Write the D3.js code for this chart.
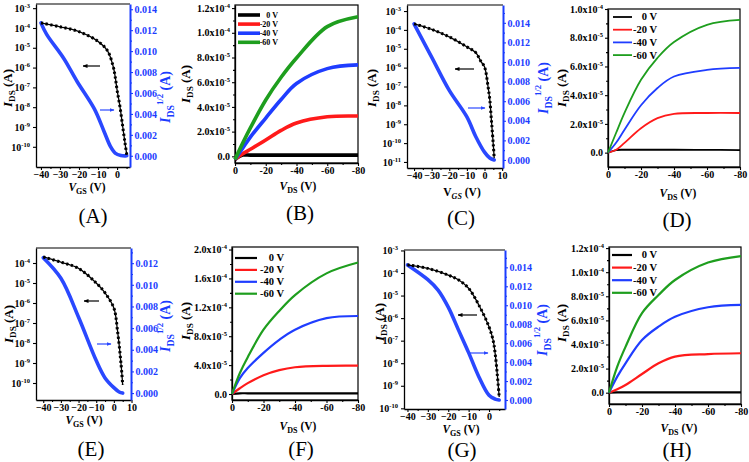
<!DOCTYPE html>
<html>
<head>
<meta charset="utf-8">
<title>transfer and output curves</title>
<script src="https://cdn.jsdelivr.net/npm/d3@7/dist/d3.min.js"></script>
<style>
body { margin: 0; background: #fff; }
text { font-family: "Liberation Serif", "Times New Roman", serif; }
</style>
</head>
<body>
<script>
// ---------- transfer curves (A, C, E, G) ----------
// black: I_DS (log, left axis), blue: sqrt(I_DS) (right axis)
var aVg = [-40, -30, -20, -10, -5, -2, -1, 0, 1.5, 3, 4.2, 5.1];
var aId = [1.8e-4, 1.15e-4, 6.5e-5, 2.1e-5, 7e-6, 1.1e-6, 3.5e-7, 7.5e-8, 1.1e-8, 1e-9, 1.5e-10, 4e-11];
var aVs = [-40, -37, -28, -21, -12, -7, -3.5, -1, 2, 5.1];
var aSq = [0.0127, 0.0116, 0.0093, 0.0071, 0.0045, 0.0024, 0.0009, 0.00026, 0.00003, 0];

var cVg = [-40, -30, -20, -10, -5, -2, 0, 2, 3, 4, 5, 5.5];
var cId = [2.1e-4, 1.07e-4, 4.3e-5, 1.26e-5, 6.3e-6, 2.1e-6, 1.1e-6, 1e-7, 2e-8, 1.3e-9, 8e-11, 1.6e-11];
var cVs = [-40, -30, -20, -10, -5, 0, 3, 5.5];
var cSq = [0.0139, 0.0105, 0.0071, 0.0044, 0.0024, 0.0008, 0.0002, 0];

var eVg = [-40, -30, -20, -10, -5, 0, 2, 4, 5];
var eId = [2e-4, 1.1e-4, 5.4e-5, 1e-5, 3.2e-6, 5.6e-7, 4.5e-8, 1e-9, 8e-11];
var eVs = [-40, -30, -20, -10, -5, 0, 3, 5];
var eSq = [0.0125, 0.0106, 0.007, 0.003, 0.0014, 0.0005, 0.0001, 0];

var gVg = [-40, -30, -20, -15, -10, -5, 0, 2, 3, 4, 5];
var gId = [2.3e-4, 1.6e-4, 8.1e-5, 5e-5, 2.1e-5, 3.8e-6, 4.1e-7, 1.05e-7, 2.75e-8, 3.6e-9, 3.2e-10];
var gVs = [-40, -30, -25, -20, -15, -10, -5, 0, 3, 5];
var gSq = [0.01425, 0.0127, 0.0116, 0.0098, 0.0074, 0.005, 0.00246, 0.0005, 0.0001, 0];

// ---------- output curves (B, D, F, H) ----------
var vds = [0, -5, -10, -20, -30, -40, -60, -80];
var vgNames = ["0 V", "-20 V", "-40 V", "-60 V"];
var vgColors = ["#000000", "#ff1a1a", "#1f3dff", "#1e9e1e"];

var b0  = [-2.5e-6, 1e-6, 1e-6, 1e-6, 1e-6, 1e-6, 1e-6, 1e-6];
var b20 = [-2.5e-6, 2e-6, 5.7e-6, 1.32e-5, 2.1e-5, 2.7e-5, 3.2e-5, 3.26e-5];
var b40 = [-2.5e-6, 6.6e-6, 1.56e-5, 3.1e-5, 4.6e-5, 5.9e-5, 7.1e-5, 7.4e-5];
var b60 = [-2.5e-6, 1.07e-5, 2.3e-5, 4.56e-5, 6.4e-5, 7.96e-5, 1.05e-4, 1.13e-4];

var d0  = [0, 1.8e-6, 2e-6, 2e-6, 2e-6, 2e-6, 1.9e-6, 1.8e-6];
var d20 = [0, 2e-6, 6.8e-6, 1.7e-5, 2.4e-5, 2.7e-5, 2.76e-5, 2.76e-5];
var d40 = [0, 7e-6, 1.6e-5, 3.3e-5, 4.5e-5, 5.3e-5, 5.76e-5, 5.9e-5];
var d60 = [0, 1.4e-5, 2.77e-5, 5.07e-5, 6.6e-5, 7.7e-5, 8.9e-5, 9.24e-5];

var f0  = [0, 1e-6, 1e-6, 1e-6, 1e-6, 1e-6, 1e-6, 1e-6];
var f20 = [0, 8e-6, 1.5e-5, 2.6e-5, 3.3e-5, 3.7e-5, 3.9e-5, 3.92e-5];
var f40 = [0, 2.2e-5, 3.6e-5, 5.7e-5, 7.5e-5, 8.9e-5, 1.05e-4, 1.08e-4];
var f60 = [0, 2.9e-5, 5.1e-5, 8.9e-5, 1.15e-4, 1.37e-4, 1.67e-4, 1.82e-4];

var h0  = [0, 3e-7, 3e-7, 3e-7, 3e-7, 3e-7, 3e-7, 3e-7];
var h20 = [0, 2.8e-6, 6.4e-6, 1.55e-5, 2.44e-5, 2.99e-5, 3.2e-5, 3.27e-5];
var h40 = [0, 1.33e-5, 2.44e-5, 4.37e-5, 5.48e-5, 6.3e-5, 7.09e-5, 7.28e-5];
var h60 = [0, 2.16e-5, 3.8e-5, 6.6e-5, 8.1e-5, 9.35e-5, 1.08e-4, 1.134e-4];

// tick values
var ticksB = [0, 2e-5, 4e-5, 6e-5, 8e-5, 1e-4, 1.2e-4];
var ticksD = [0, 2e-5, 4e-5, 6e-5, 8e-5, 1e-4];
var ticksF = [0, 4e-5, 8e-5, 1.2e-4, 1.6e-4, 2e-4];
var ticksVds = [0, -20, -40, -60, -80];
var sqTicks14 = [0, 0.002, 0.004, 0.006, 0.008, 0.010, 0.012, 0.014];
var sqTicks12 = [0, 0.002, 0.004, 0.006, 0.008, 0.010, 0.012];

var svg = d3.select("body").append("svg").attr("width", 749).attr("height", 462);

var BLUE = "#2a48ff";
var AXBLUE = "#1b3cff";
var smooth = d3.curveCatmullRom.alpha(0.5);

var defs = svg.append("defs");
[["arrK", "#000"], ["arrB", BLUE]].forEach(function(m) {
    defs.append("marker").attr("id", m[0]).attr("viewBox", "0 0 10 10")
        .attr("refX", 9).attr("refY", 5).attr("markerWidth", 5).attr("markerHeight", 5)
        .attr("orient", "auto").attr("markerUnits", "userSpaceOnUse")
        .append("path").attr("d", "M0,1L10,5L0,9z").attr("fill", m[1]);
});

function styleAxis(g, color) {
    g.attr("font-family", "Liberation Serif, Times New Roman, serif")
     .attr("font-size", 10).attr("font-weight", "bold");
    g.selectAll("path.domain").attr("stroke", color).attr("stroke-width", 1.3);
    g.selectAll("line").attr("stroke", color).attr("stroke-width", 1.1);
    g.selectAll("text").attr("fill", color);
}

function minor(g, axis) {
    g.call(axis.tickSize(2).tickFormat(""));
    g.select(".domain").remove();
    g.selectAll("line").attr("stroke-width", 1);
}

function powLabel(sel, pre, e) {
    sel.text(null);
    sel.append("tspan").text(pre + "10");
    sel.append("tspan").attr("dy", -4).attr("font-size", 6.5).text(e);
}

function sciFormat(sel) {
    sel.each(function(v) {
        var t = d3.select(this);
        if (v === 0) { t.text("0.0"); return; }
        var e = Math.floor(Math.log10(v) + 1e-9);
        var m = (v / Math.pow(10, e)).toFixed(1);
        powLabel(t, m + "x", e);
    });
}

// rotated / plain axis title: main letter with subscript (and optional superscript)
function title(x, y, rot, color, size, main, sub, sup, tail, mainItalic, subItalic) {
    var t = svg.append("text")
        .attr("transform", "translate(" + x + "," + y + ") rotate(" + rot + ")")
        .attr("text-anchor", "middle").attr("fill", color)
        .attr("font-weight", "bold").attr("font-size", size);
    t.append("tspan").attr("font-style", mainItalic === false ? "normal" : "italic").text(main);
    t.append("tspan").attr("font-size", size * 0.7).attr("dy", size * 0.25)
        .attr("font-style", subItalic ? "italic" : "normal").text(sub);
    if (sup) {
        t.append("tspan").attr("font-size", size * 0.62).attr("dy", -size * 0.75).text(sup);
        t.append("tspan").attr("dy", size * 0.5).text(" " + tail);
    } else {
        t.append("tspan").attr("dy", -size * 0.25).text(" " + tail);
    }
}

function transfer(p) {
    var b = p.box;
    var x = d3.scaleLinear().domain(p.xd).range([b[0], b[2]]);
    var y = d3.scaleLog().domain(p.yd).range([b[3], b[1]]);
    var r = d3.scaleLinear().domain(p.rd).range([b[3], b[1]]);
    var g = svg.append("g");

    g.append("line").attr("x1", b[0]).attr("x2", b[2]).attr("y1", b[1]).attr("y2", b[1])
        .attr("stroke", "#000").attr("stroke-width", 1.2);

    // bottom axis
    var gm = g.append("g").attr("transform", "translate(0," + b[3] + ")");
    minor(gm, d3.axisBottom(x).tickValues(p.xMinor));
    styleAxis(gm, "#000");
    var gx = g.append("g").attr("transform", "translate(0," + b[3] + ")")
        .call(d3.axisBottom(x).tickValues(p.xt).tickSize(3).tickSizeOuter(0).tickPadding(0.5));
    styleAxis(gx, "#000");

    // left log axis
    var gy = g.append("g").attr("transform", "translate(" + b[0] + ",0)")
        .call(d3.axisLeft(y).tickValues(p.yt).tickSize(3).tickSizeOuter(0).tickPadding(3));
    gy.selectAll(".tick text").each(function(v) {
        powLabel(d3.select(this), "", Math.round(Math.log10(v)));
    });
    styleAxis(gy, "#000");

    // right sqrt axis (blue)
    var grm = g.append("g").attr("transform", "translate(" + b[2] + ",0)");
    minor(grm, d3.axisRight(r).tickValues(p.rt.map(function(v) { return v + 0.001; })
        .filter(function(v) { return v < p.rd[1]; })));
    styleAxis(grm, AXBLUE);
    var gr = g.append("g").attr("transform", "translate(" + b[2] + ",0)")
        .call(d3.axisRight(r).tickValues(p.rt).tickSize(3).tickSizeOuter(0).tickPadding(1.5)
            .tickFormat(d3.format(".3f")));
    styleAxis(gr, AXBLUE);
    gr.select(".domain").attr("stroke-width", 2);

    // blue sqrt curve
    var blue = p.vs.map(function(v, i) { return [v, p.sq[i]]; });
    g.append("path").datum(blue)
        .attr("d", d3.line().x(function(d) { return x(d[0]); }).y(function(d) { return r(d[1]); })
            .curve(smooth))
        .attr("fill", "none").attr("stroke", BLUE).attr("stroke-width", 3.6)
        .attr("stroke-linecap", "round");

    // black log curve with square-ish symbols
    var blk = p.vg.map(function(v, i) { return [v, p.id[i]]; });
    var ln = d3.line().x(function(d) { return x(d[0]); }).y(function(d) { return y(d[1]); })
        .curve(smooth);
    g.append("path").datum(blk).attr("d", ln)
        .attr("fill", "none").attr("stroke", "#000").attr("stroke-width", 1.3);
    g.append("path").datum(blk).attr("d", ln)
        .attr("fill", "none").attr("stroke", "#000").attr("stroke-width", 3)
        .attr("stroke-dasharray", "2.2 2.6");

    // arrows
    g.append("line").attr("x1", p.ak[0]).attr("x2", p.ak[1]).attr("y1", p.ak[2]).attr("y2", p.ak[2])
        .attr("stroke", "#000").attr("stroke-width", 1.2).attr("marker-end", "url(#arrK)");
    g.append("line").attr("x1", p.ab[0]).attr("x2", p.ab[1]).attr("y1", p.ab[2]).attr("y2", p.ab[2])
        .attr("stroke", BLUE).attr("stroke-width", 1.2).attr("marker-end", "url(#arrB)");
}

function output(p) {
    var b = p.box;
    var x = d3.scaleLinear().domain([0, -80]).range([b[0], b[2]]);
    var y = d3.scaleLinear().domain(p.yd).range([b[3], b[1]]);
    var g = svg.append("g");

    g.append("rect").attr("x", b[0]).attr("y", b[1]).attr("width", b[2] - b[0]).attr("height", b[3] - b[1])
        .attr("fill", "none").attr("stroke", "#000").attr("stroke-width", 1.2);

    var gm = g.append("g").attr("transform", "translate(0," + b[3] + ")");
    minor(gm, d3.axisBottom(x).tickValues([-10, -30, -50, -70]));
    styleAxis(gm, "#000");
    var gx = g.append("g").attr("transform", "translate(0," + b[3] + ")")
        .call(d3.axisBottom(x).tickValues(ticksVds).tickSize(3).tickSizeOuter(0).tickPadding(1));
    styleAxis(gx, "#000");
    gx.selectAll(".tick text").text(function(d) { return d === 0 ? "0" : "-" + Math.abs(d); });

    var step = p.yt[1] - p.yt[0];
    var mins = p.yt.map(function(v) { return v + step / 2; }).filter(function(v) { return v < p.yd[1]; });
    mins.push(-step / 2);
    var gym = g.append("g").attr("transform", "translate(" + b[0] + ",0)");
    minor(gym, d3.axisLeft(y).tickValues(mins.filter(function(v) { return v > p.yd[0]; })));
    styleAxis(gym, "#000");
    var gy = g.append("g").attr("transform", "translate(" + b[0] + ",0)")
        .call(d3.axisLeft(y).tickValues(p.yt).tickSize(3).tickSizeOuter(0).tickPadding(2));
    sciFormat(gy.selectAll(".tick text"));
    styleAxis(gy, "#000");

    var line = d3.line().x(function(d) { return x(d[0]); }).y(function(d) { return y(d[1]); })
        .curve(smooth);
    p.series.forEach(function(s, k) {
        g.append("path").datum(vds.map(function(v, i) { return [v, s[i]]; }))
            .attr("d", line).attr("fill", "none").attr("stroke", vgColors[k])
            .attr("stroke-width", p.lw);
    });

    // legend
    var lg = p.leg;
    vgNames.forEach(function(name, k) {
        var yy = lg.y0 + k * lg.dy;
        g.append("line").attr("x1", lg.x0).attr("x2", lg.x1).attr("y1", yy).attr("y2", yy)
            .attr("stroke", vgColors[k]).attr("stroke-width", p.lw);
        g.append("text").attr("x", lg.tx).attr("y", yy).attr("dy", "0.33em")
            .attr("text-anchor", "end").attr("font-weight", "bold").attr("font-size", lg.fs)
            .text(name);
    });
}

transfer({ box: [36, 4, 130, 167], xd: [-42.6, 6.8], yd: [Math.pow(10, -11.02), Math.pow(10, -2.79)],
    rd: [-0.00107, 0.0145], xt: [-40, -30, -20, -10, 0], xMinor: [-35, -25, -15, -5, 5],
    yt: [1e-10, 1e-9, 1e-8, 1e-7, 1e-6, 1e-5, 1e-4, 1e-3], rt: sqTicks14,
    vg: aVg, id: aId, vs: aVs, sq: aSq, ak: [100, 83, 66], ab: [100, 114, 110] });

transfer({ box: [407, 5, 503, 168], xd: [-44, 10.5], yd: [Math.pow(10, -11.32), Math.pow(10, -2.68)],
    rd: [-0.00082, 0.01582], xt: [-40, -30, -20, -10, 0, 10], xMinor: [-35, -25, -15, -5, 5],
    yt: [1e-11, 1e-10, 1e-9, 1e-8, 1e-7, 1e-6, 1e-5, 1e-4, 1e-3], rt: sqTicks14,
    vg: cVg, id: cId, vs: cVs, sq: cSq, ak: [474, 455, 69], ab: [468, 485, 108] });

transfer({ box: [36, 248, 131, 400], xd: [-44.1, 9.7], yd: [Math.pow(10, -10.85), Math.pow(10, -3.25)],
    rd: [-0.00064, 0.0134], xt: [-40, -30, -20, -10, 0, 10], xMinor: [-35, -25, -15, -5, 5],
    yt: [1e-10, 1e-9, 1e-8, 1e-7, 1e-6, 1e-5, 1e-4], rt: sqTicks12,
    vg: eVg, id: eId, vs: eVs, sq: eSq, ak: [99, 84, 301], ab: [97, 111, 344] });

transfer({ box: [404, 250, 505, 409], xd: [-41.7, 7.84], yd: [Math.pow(10, -10.03), Math.pow(10, -2.98)],
    rd: [-0.00095, 0.01583], xt: [-40, -30, -20, -10, 0], xMinor: [-35, -25, -15, -5, 5],
    yt: [1e-10, 1e-9, 1e-8, 1e-7, 1e-6, 1e-5, 1e-4, 1e-3], rt: sqTicks14,
    vg: gVg, id: gId, vs: gVs, sq: gSq, ak: [477, 458, 315], ab: [470, 488, 353] });

output({ box: [235, 5, 358, 163], yd: [-0.54e-5, 1.225e-4], yt: ticksB, lw: 3.6,
    series: [b0, b20, b40, b60], leg: { x0: 238, x1: 260, tx: 278, y0: 15, dy: 9.1, fs: 8 } });
output({ box: [608, 9, 740, 167], yd: [-1e-5, 1e-4], yt: ticksD, lw: 1.8,
    series: [d0, d20, d40, d60], leg: { x0: 613, x1: 632, tx: 657, y0: 17, dy: 12.7, fs: 10.5 } });
output({ box: [232, 247, 358, 400], yd: [-0.83e-5, 2.035e-4], yt: ticksF, lw: 2.2,
    series: [f0, f20, f40, f60], leg: { x0: 235, x1: 257, tx: 284, y0: 258, dy: 11.9, fs: 10.5 } });
output({ box: [609, 247, 741, 404], yd: [-0.94e-5, 1.209e-4], yt: ticksB, lw: 2.2,
    series: [h0, h20, h40, h60], leg: { x0: 612, x1: 632, tx: 657, y0: 255, dy: 12.6, fs: 10.5 } });

// axis titles
title(12, 88, -90, "#000", 13, "I", "DS", null, "(A)");
title(170, 97, -90, AXBLUE, 14, "I", "DS", "1/2", "(A)");
title(87, 191, 0, "#000", 11.5, "V", "GS", null, "(V)");
title(190, 84, -90, "#000", 13, "I", "DS", null, "(A)");
title(298, 190, 0, "#000", 11.5, "V", "DS", null, "(V)");
title(376, 88, -90, "#000", 13, "I", "DS", null, "(A)");
title(548, 88, -90, AXBLUE, 14, "I", "DS", "1/2", "(A)");
title(462, 196, 0, "#000", 11.5, "V", "GS", null, "(V)", false, true);
title(566, 88, -90, "#000", 13, "I", "DS", null, "(A)");
title(678, 197, 0, "#000", 11.5, "V", "DS", null, "(V)");
title(13, 324, -90, "#000", 13, "I", "DS", null, "(A)");
title(170, 326, -90, AXBLUE, 14, "I", "DS", "1/2", "(A)");
title(84, 424, 0, "#000", 11.5, "V", "GS", null, "(V)");
title(190, 321, -90, "#000", 13, "I", "DS", null, "(A)");
title(298, 430, 0, "#000", 11.5, "V", "DS", null, "(V)");
title(384, 322, -90, "#000", 13, "I", "DS", null, "(A)");
title(547, 330, -90, AXBLUE, 14, "I", "DS", "1/2", "(A)");
title(461, 433, 0, "#000", 11.5, "V", "GS", null, "(V)");
title(566, 323, -90, "#000", 13, "I", "DS", null, "(A)");
title(679, 432, 0, "#000", 11.5, "V", "DS", null, "(V)");

// panel letters
var letters = ["(A)", "(B)", "(C)", "(D)", "(E)", "(F)", "(G)", "(H)"];
var letterX = [93, 300, 461, 677, 91, 301, 462, 677];
var letterY = [223, 220, 225, 227, 456, 456, 457, 457];
svg.selectAll("text.letter").data(letters).enter().append("text")
    .attr("class", "letter")
    .attr("x", function(d, i) { return letterX[i]; })
    .attr("y", function(d, i) { return letterY[i]; })
    .attr("text-anchor", "middle").attr("font-size", 21)
    .text(function(d) { return d; });
</script>
</body>
</html>
